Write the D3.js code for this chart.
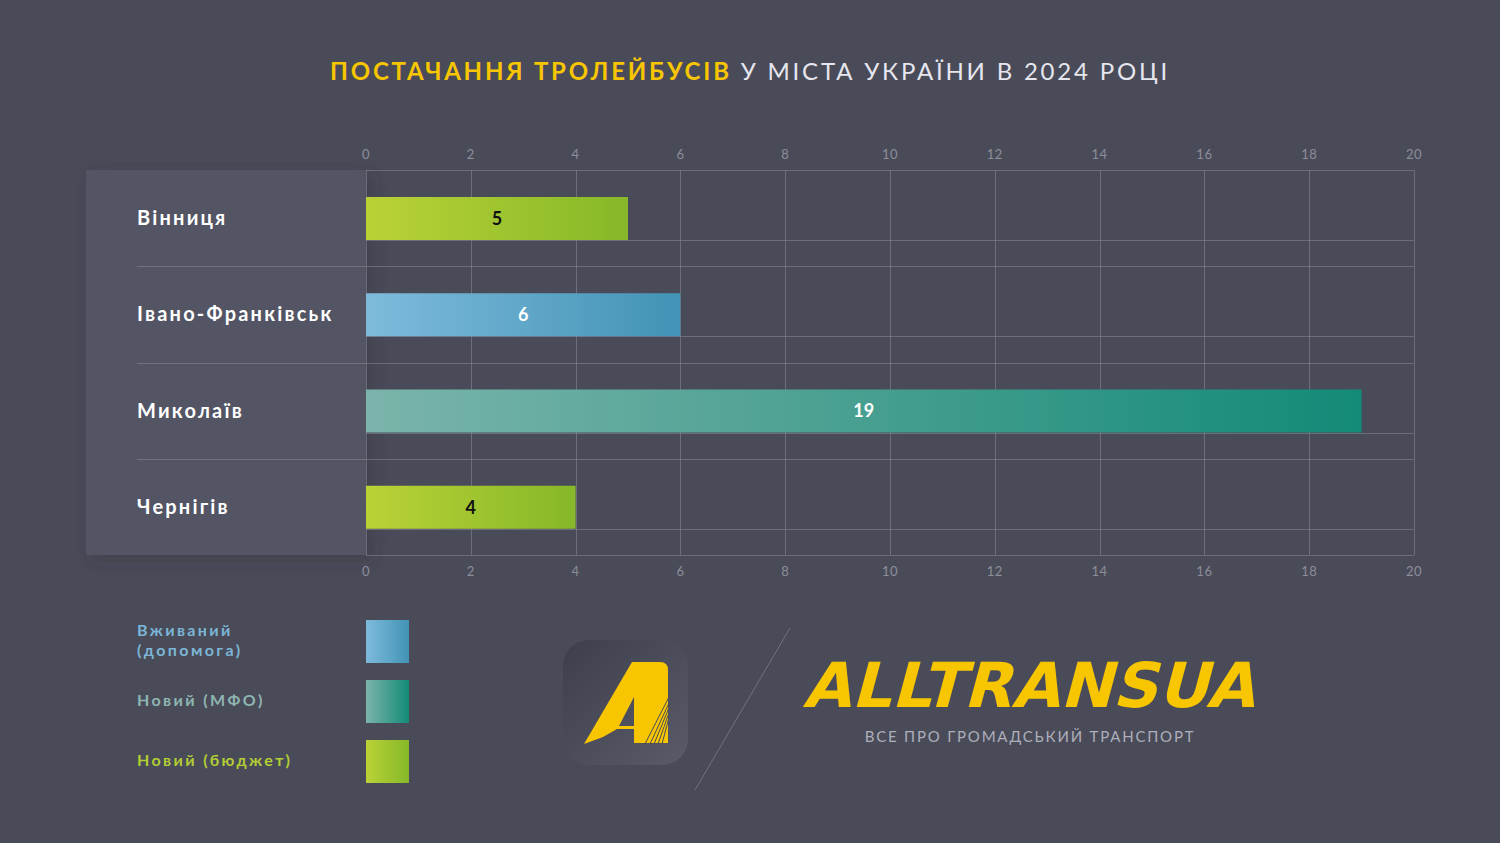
<!DOCTYPE html>
<html lang="uk">
<head>
	<meta charset="utf-8">
	<title>Постачання тролейбусів 2024</title>
	<script src="https://cdn.jsdelivr.net/npm/d3@7"></script>
	<style>
		body { margin: 0; background: #4a4b59; }
		svg { display: block; }
		.tick-label { fill: #8d8e9a; font: 13px Lato, sans-serif; letter-spacing: 0.5px; }
		.city { fill: #ffffff; font: 700 20px Lato, sans-serif; letter-spacing: 2.2px; }
		.value { font: 700 18px Lato, sans-serif; }
		.legend-text { font: 700 16px Lato, sans-serif; letter-spacing: 2.4px; }
	</style>
</head>
<body>
	<script>
		// data
		var cities = ["Вінниця", "Івано-Франківськ", "Миколаїв", "Чернігів"];
		var values = [5, 6, 19, 4];
		var cityType = ["budget", "aid", "mfo", "budget"];
		var typeKeys = ["aid", "mfo", "budget"];
		var typeLabels = [["Вживаний", "(допомога)"], ["Новий (МФО)"], ["Новий (бюджет)"]];
		var tickValues = [0, 2, 4, 6, 8, 10, 12, 14, 16, 18, 20];

		var width = 1500;
		var height = 843;

		// colours for each type: gradient start / end, label colour, value colour
		var typeStyle = {
			aid:    { from: "#7ebbdb", to: "#4293b6", legend: "#7cb6d6", value: "#ffffff" },
			mfo:    { from: "#7bb4aa", to: "#138a77", legend: "#8eb6b1", value: "#ffffff" },
			budget: { from: "#bad236", to: "#86b829", legend: "#b3cd34", value: "#111111" }
		};

		var svg = d3.select("body")
			.append("svg")
			.attr("width", width)
			.attr("height", height);

		var defs = svg.append("defs");

		typeKeys.forEach(function(k) {
			var g = defs.append("linearGradient")
				.attr("id", "grad-" + k)
				.attr("x1", 0).attr("x2", 1).attr("y1", 0).attr("y2", 0);
			g.append("stop").attr("offset", "0%").attr("stop-color", typeStyle[k].from);
			g.append("stop").attr("offset", "100%").attr("stop-color", typeStyle[k].to);
		});

		var shadow = defs.append("filter").attr("id", "shadow")
			.attr("x", "-10%").attr("y", "-10%").attr("width", "130%").attr("height", "130%");
		shadow.append("feDropShadow")
			.attr("dx", 6).attr("dy", 4).attr("stdDeviation", 8)
			.attr("flood-color", "#2f303b").attr("flood-opacity", 0.4);

		var iconGrad = defs.append("linearGradient").attr("id", "icon-grad")
			.attr("x1", 0).attr("y1", 0).attr("x2", 1).attr("y2", 1);
		iconGrad.append("stop").attr("offset", "0%").attr("stop-color", "#3e3f4c");
		iconGrad.append("stop").attr("offset", "100%").attr("stop-color", "#5a5b68");

		svg.append("rect")
			.attr("width", width).attr("height", height)
			.attr("fill", "#4a4b59");

		// title
		var title = svg.append("text")
			.attr("x", width / 2)
			.attr("y", 80)
			.attr("text-anchor", "middle")
			.style("font", "24px Lato, sans-serif")
			.style("letter-spacing", "2.8px");
		title.append("tspan")
			.attr("fill", "#f7c600")
			.attr("font-weight", 700)
			.text("ПОСТАЧАННЯ ТРОЛЕЙБУСІВ");
		title.append("tspan")
			.attr("fill", "#e6e6ee")
			.text(" У МІСТА УКРАЇНИ В 2024 РОЦІ");

		// scales
		var x = d3.scaleLinear().domain([0, 20]).range([366, 1414]);
		var y = d3.scaleBand().domain(cities).range([170, 555]);
		var barOffset = 27, barHeight = 43;

		// left panel
		svg.append("rect")
			.attr("x", 86).attr("y", y.range()[0])
			.attr("width", x(0) - 86)
			.attr("height", y.range()[1] - y.range()[0])
			.attr("fill", "#535465")
			.attr("filter", "url(#shadow)");

		var grid = svg.append("g").attr("stroke", "#8a8b97").attr("stroke-opacity", 0.55).attr("stroke-width", 1);

		// vertical grid lines
		grid.selectAll(".vline")
			.data(tickValues)
			.enter()
			.append("line")
			.attr("x1", function(d) { return Math.round(x(d)) + 0.5; })
			.attr("x2", function(d) { return Math.round(x(d)) + 0.5; })
			.attr("y1", y.range()[0])
			.attr("y2", y.range()[1]);

		// top and bottom border
		grid.selectAll(".hborder")
			.data(y.range())
			.enter()
			.append("line")
			.attr("x1", x(0)).attr("x2", x(20))
			.attr("y1", function(d) { return d + 0.5; })
			.attr("y2", function(d) { return d + 0.5; });

		// separators between cities, running into the panel
		grid.selectAll(".sep")
			.data(cities.slice(1))
			.enter()
			.append("line")
			.attr("x1", 137).attr("x2", x(20))
			.attr("y1", function(d) { return Math.round(y(d)) + 0.5; })
			.attr("y2", function(d) { return Math.round(y(d)) + 0.5; });

		// line under each bar
		grid.selectAll(".under")
			.data(cities)
			.enter()
			.append("line")
			.attr("x1", x(0)).attr("x2", x(20))
			.attr("y1", function(d) { return Math.round(y(d) + barOffset + barHeight) + 0.5; })
			.attr("y2", function(d) { return Math.round(y(d) + barOffset + barHeight) + 0.5; });

		// axes labels, top and bottom
		[154, 571].forEach(function(ty) {
			svg.append("g").selectAll("text")
				.data(tickValues)
				.enter()
				.append("text")
				.attr("class", "tick-label")
				.attr("x", function(d) { return x(d); })
				.attr("y", ty)
				.attr("dy", "0.35em")
				.attr("text-anchor", "middle")
				.text(function(d) { return d; });
		});

		// bars
		svg.append("g").selectAll("rect")
			.data(cities)
			.enter()
			.append("rect")
			.attr("x", x(0))
			.attr("y", function(d) { return y(d) + barOffset; })
			.attr("width", function(d, i) { return x(values[i]) - x(0); })
			.attr("height", barHeight)
			.attr("fill", function(d, i) { return "url(#grad-" + cityType[i] + ")"; });

		svg.append("g").selectAll("text")
			.data(cities)
			.enter()
			.append("text")
			.attr("class", "value")
			.attr("x", function(d, i) { return (x(0) + x(values[i])) / 2; })
			.attr("y", function(d) { return y(d) + barOffset + barHeight / 2; })
			.attr("dy", "0.36em")
			.attr("text-anchor", "middle")
			.attr("fill", function(d, i) { return typeStyle[cityType[i]].value; })
			.text(function(d, i) { return values[i]; });

		// city names
		svg.append("g").selectAll("text")
			.data(cities)
			.enter()
			.append("text")
			.attr("class", "city")
			.attr("x", 137)
			.attr("y", function(d) { return y(d) + y.bandwidth() / 2; })
			.attr("dy", "0.35em")
			.text(function(d) { return d; });

		// legend
		var legendY = [620, 680, 740];
		var legend = svg.append("g");
		typeKeys.forEach(function(k, i) {
			legend.append("rect")
				.attr("x", 366).attr("y", legendY[i])
				.attr("width", 43).attr("height", 43)
				.attr("fill", "url(#grad-" + k + ")");
			var lines = typeLabels[i];
			var t = legend.append("text")
				.attr("class", "legend-text")
				.attr("fill", typeStyle[k].legend)
				.attr("x", 137)
				.attr("y", legendY[i] + 20 - (lines.length - 1) * 10)
				.attr("dy", "0.35em");
			lines.forEach(function(line, j) {
				t.append("tspan")
					.attr("x", 137)
					.attr("dy", j === 0 ? "0.35em" : "20px")
					.text(line);
			});
		});

		// logo
		var logo = svg.append("g");
		logo.append("rect")
			.attr("x", 563).attr("y", 640)
			.attr("width", 125).attr("height", 125)
			.attr("rx", 26)
			.attr("fill", "url(#icon-grad)");
		logo.append("path")
			.attr("fill", "#f7c600")
			.attr("fill-rule", "evenodd")
			.attr("d", "M584,744 L632,662 L660,662 Q668,662 668,670 L668,743 L634,743 L634,729 L617,729 L603,737 Z M634,697 L634,726 L619,726 Z");
		logo.append("g")
			.attr("stroke", "#4a4b59").attr("stroke-width", 1)
			.selectAll("line")
			.data([0, 5, 9, 13, 17])
			.enter()
			.append("line")
			.attr("x1", 669)
			.attr("y1", function(d) { return 697 + d * 1.2; })
			.attr("x2", function(d) { return 645 + d; })
			.attr("y2", 744);

		svg.append("line")
			.attr("x1", 790).attr("y1", 628)
			.attr("x2", 695).attr("y2", 790)
			.attr("stroke", "#8a8b97").attr("stroke-opacity", 0.6);

		svg.append("text")
			.attr("x", 802).attr("y", 707)
			.attr("textLength", 452)
			.attr("lengthAdjust", "spacingAndGlyphs")
			.attr("transform", "translate(190,0) skewX(-15)")
			.attr("fill", "#f7c600")
			.style("font", "900 62px 'DejaVu Sans', sans-serif")
			.text("ALLTRANSUA");

		svg.append("text")
			.attr("x", 1030).attr("y", 737)
			.attr("dy", "0.35em")
			.attr("text-anchor", "middle")
			.attr("fill", "#aeafba")
			.style("font", "15px Lato, sans-serif")
			.style("letter-spacing", "1.8px")
			.text("ВСЕ ПРО ГРОМАДСЬКИЙ ТРАНСПОРТ");
	</script>
</body>
</html>
